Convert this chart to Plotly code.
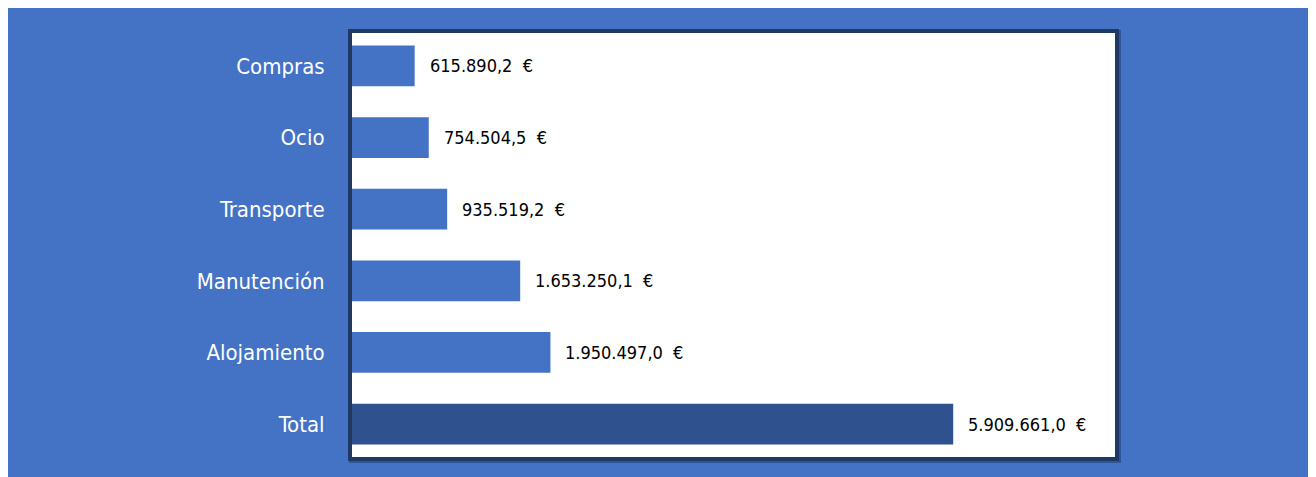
import plotly.graph_objects as go

categories = ["Total", "Alojamiento", "Manutención", "Transporte", "Ocio", "Compras"]
values = [5909661.0, 1950497.0, 1653250.1, 935519.2, 754504.5, 615890.2]
bar_colors = ["#2F528F", "#4472C4", "#4472C4", "#4472C4", "#4472C4", "#4472C4"]


def fmt(v):
    s = f"{v:,.1f}".replace(",", "X").replace(".", ",").replace("X", ".")
    return s + "\u00a0\u00a0€"


FONT = "DejaVu Sans Condensed, Liberation Sans Narrow, Roboto, sans-serif"
W, H = 1316, 477
L, R, T, B = 344, 1107, 25, 449

fig = go.Figure()
fig.add_trace(go.Bar(
    x=values, y=categories, orientation="h",
    marker=dict(color=bar_colors, line=dict(width=0)),
    width=0.57, hoverinfo="skip",
))

for c, v in zip(categories, values):
    fig.add_annotation(x=v, y=c, xref="x", yref="y", text=fmt(v), showarrow=False,
                       xanchor="left", xshift=13,
                       font=dict(family=FONT, size=18, color="#000000"))

pw, ph = R - L, B - T
# shadow + white plot background
fig.add_shape(type="rect", xref="paper", yref="paper", layer="below",
              x0=-3 / pw, x1=1 + 6 / pw, y0=-6 / ph, y1=1 + 3 / ph,
              fillcolor="#2E5596", line=dict(width=0))
fig.add_shape(type="rect", xref="paper", yref="paper", layer="below",
              x0=0, x1=1, y0=0, y1=1,
              fillcolor="#FFFFFF", line=dict(width=0))

fig.update_layout(
    width=W, height=H,
    margin=dict(l=L, r=W - R, t=T, b=H - B, pad=0),
    paper_bgcolor="#4472C4", plot_bgcolor="rgba(0,0,0,0)",
    showlegend=False,
    xaxis=dict(range=[0, 7500000], showgrid=False, zeroline=False, showticklabels=False,
               showline=True, mirror=True, linecolor="#203864", linewidth=4, ticks=""),
    yaxis=dict(categoryorder="array", categoryarray=categories, range=[-0.46, 5.46],
               showgrid=False, zeroline=False,
               showline=True, mirror=True, linecolor="#203864", linewidth=4, ticks="",
               ticklabelstandoff=19,
               tickfont=dict(family=FONT, size=22, color="#FFFFFF")),
)

fig.write_html("out.html")
